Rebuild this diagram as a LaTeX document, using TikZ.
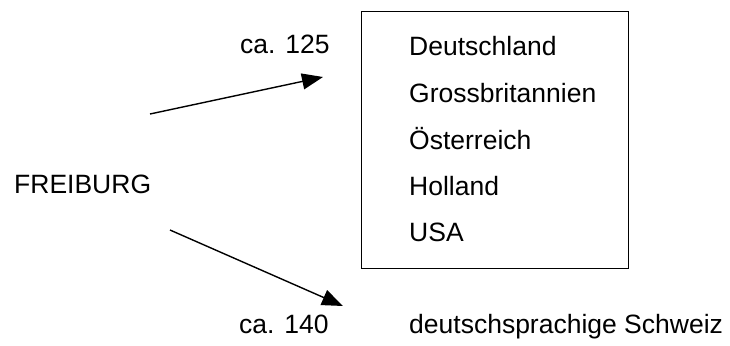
\documentclass[tikz,border=0pt]{standalone}
\usepackage{fontspec}
\setmainfont{Liberation Sans}
\usetikzlibrary{arrows.meta}
\begin{document}
\begin{tikzpicture}[x=1pt,y=-1pt,
  lbl/.style={anchor=base west,inner sep=0pt,font=\fontsize{26.5}{30}\selectfont},
  flow/.style={line width=1.4pt,-{Triangle[length=21pt,width=16pt]}}]
\useasboundingbox (0,0) rectangle (730,345);
% destination box
\node[draw,line width=1.4pt,minimum width=267pt,minimum height=257pt,inner sep=0pt,anchor=north west] (box) at (361,11) {};
\node[lbl] (de) at (409,56) {Deutschland};
\node[lbl] (gb) at (409,102) {Grossbritannien};
\node[lbl] (at) at (409,149) {Österreich};
\node[lbl] (nl) at (409,195) {Holland};
\node[lbl] (us) at (409,241) {USA};
% source and counts
\node[lbl] (fr) at (14,193) {FREIBURG};
\node[lbl] (c125) at (240,53) {ca. 125};
\node[lbl] (c140) at (239,333) {ca. 140};
\node[lbl] (ch) at (409,333) {deutschsprachige Schweiz};
% arrows
\coordinate (s1) at (150,114);
\coordinate (e1) at (323,77);
\coordinate (s2) at (170,230);
\coordinate (e2) at (343,306);
\draw[flow] (s1) -- (e1);
\draw[flow] (s2) -- (e2);
\end{tikzpicture}
\end{document}
